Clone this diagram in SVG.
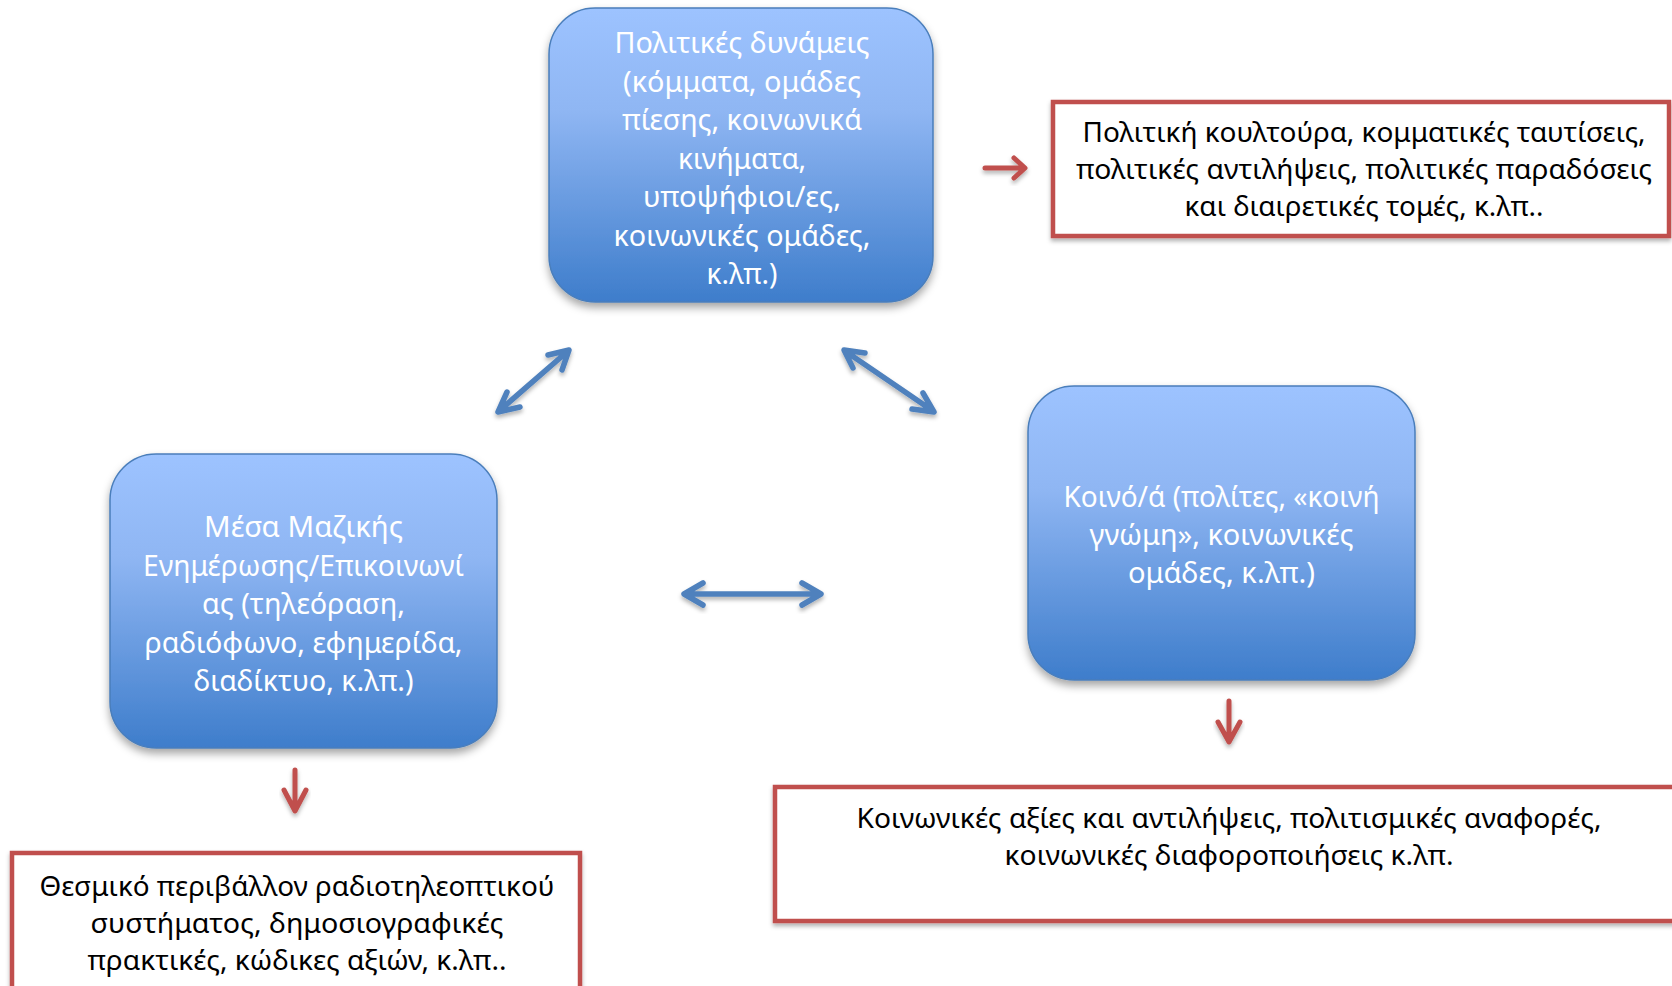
<svg xmlns="http://www.w3.org/2000/svg" width="1672" height="986" viewBox="0 0 1672 986">
<defs>
<linearGradient id="blueGrad" x1="0" y1="0" x2="0" y2="1">
<stop offset="0" stop-color="#9DC3FF"/>
<stop offset="0.35" stop-color="#8FB6F3"/>
<stop offset="1" stop-color="#3E7DCB"/>
</linearGradient>
<filter id="shadow" x="-10%" y="-10%" width="120%" height="130%">
<feDropShadow dx="0" dy="5" stdDeviation="4" flood-color="#000" flood-opacity="0.35"/>
</filter>
<filter id="shadowS" x="-20%" y="-20%" width="140%" height="160%">
<feDropShadow dx="0" dy="3" stdDeviation="2" flood-color="#000" flood-opacity="0.3"/>
</filter>
</defs>
<style>
.node{fill:url(#blueGrad);stroke:#4A7EBB;stroke-width:1.5;filter:url(#shadow)}
.wt{font-family:"Noto Sans","Open Sans","DejaVu Sans",sans-serif;font-size:29px;fill:#FFFFFF;text-anchor:middle}
.box{fill:#FFFFFF;stroke:#C0504D;stroke-width:4.5;filter:url(#shadowS)}
.bt{font-family:"Noto Sans","Open Sans","DejaVu Sans",sans-serif;font-size:27.5px;fill:#000000;text-anchor:middle}
.bl{fill:none;stroke:#4F81BD;stroke-width:5.5;stroke-linecap:round;stroke-linejoin:round;filter:url(#shadowS)}
.rd{fill:none;stroke:#C0504D;stroke-width:5;stroke-linecap:round;stroke-linejoin:round;filter:url(#shadowS)}
</style>
<rect width="1672" height="986" fill="#FFFFFF"/>

<g id="connectors">
<path class="bl" d="M499,411 L568,351 M548,355 L569,350 L562,370 M507,392 L498,412 L520,407"/>
<path class="bl" d="M845,351 L933,411 M865,353 L844,350 L853,368 M923,393 L934,412 L912,409"/>
<path class="bl" d="M685,594 L820,594 M703,583 L684,594 L703,605 M802,583 L821,594 L802,605"/>
<path class="rd" d="M985,168 L1024,168 M1014,158 L1025,168 L1014,178"/>
<path class="rd" d="M295,770 L295,810 M284,790 L295,811 L306,790"/>
<path class="rd" d="M1229,701 L1229,741 M1218,722 L1229,742 L1240,722"/>
</g>

<g id="node-political">
<rect class="node" x="549" y="8" width="384" height="294" rx="46"/>
<text class="wt" x="742" y="53" textLength="255" lengthAdjust="spacingAndGlyphs">Πολιτικές δυνάμεις</text>
<text class="wt" x="742" y="92" textLength="238" lengthAdjust="spacingAndGlyphs">(κόμματα, ομάδες</text>
<text class="wt" x="742" y="130" textLength="240" lengthAdjust="spacingAndGlyphs">πίεσης, κοινωνικά</text>
<text class="wt" x="742" y="169" textLength="128" lengthAdjust="spacingAndGlyphs">κινήματα,</text>
<text class="wt" x="742" y="207" textLength="198" lengthAdjust="spacingAndGlyphs">υποψήφιοι/ες,</text>
<text class="wt" x="742" y="246" textLength="257" lengthAdjust="spacingAndGlyphs">κοινωνικές ομάδες,</text>
<text class="wt" x="742" y="284" textLength="71" lengthAdjust="spacingAndGlyphs">κ.λπ.)</text>
</g>

<g id="node-media">
<rect class="node" x="110" y="454" width="387" height="294" rx="46"/>
<text class="wt" x="303.5" y="537" textLength="199" lengthAdjust="spacingAndGlyphs">Μέσα Μαζικής</text>
<text class="wt" x="303.5" y="576" textLength="321" lengthAdjust="spacingAndGlyphs">Ενημέρωσης/Επικοινωνί</text>
<text class="wt" x="303.5" y="614" textLength="203" lengthAdjust="spacingAndGlyphs">ας (τηλεόραση,</text>
<text class="wt" x="303.5" y="653" textLength="318" lengthAdjust="spacingAndGlyphs">ραδιόφωνο, εφημερίδα,</text>
<text class="wt" x="303.5" y="691" textLength="220" lengthAdjust="spacingAndGlyphs">διαδίκτυο, κ.λπ.)</text>
</g>

<g id="node-public">
<rect class="node" x="1028" y="386" width="387" height="294" rx="46"/>
<text class="wt" x="1221.5" y="507" textLength="316" lengthAdjust="spacingAndGlyphs">Κοινό/ά (πολίτες, «κοινή</text>
<text class="wt" x="1221.5" y="545" textLength="264" lengthAdjust="spacingAndGlyphs">γνώμη», κοινωνικές</text>
<text class="wt" x="1221.5" y="583" textLength="187" lengthAdjust="spacingAndGlyphs">ομάδες, κ.λπ.)</text>
</g>

<g id="box-culture">
<rect class="box" x="1053" y="102" width="616" height="134"/>
<text class="bt" x="1364" y="142" textLength="563" lengthAdjust="spacingAndGlyphs">Πολιτική κουλτούρα, κομματικές ταυτίσεις,</text>
<text class="bt" x="1364" y="179" textLength="576" lengthAdjust="spacingAndGlyphs">πολιτικές αντιλήψεις, πολιτικές παραδόσεις</text>
<text class="bt" x="1364" y="216" textLength="359" lengthAdjust="spacingAndGlyphs">και διαιρετικές τομές, κ.λπ..</text>
</g>

<g id="box-institutional">
<rect class="box" x="12" y="853" width="568" height="160"/>
<text class="bt" x="297" y="896" textLength="515" lengthAdjust="spacingAndGlyphs">Θεσμικό περιβάλλον ραδιοτηλεοπτικού</text>
<text class="bt" x="297" y="933" textLength="413" lengthAdjust="spacingAndGlyphs">συστήματος, δημοσιογραφικές</text>
<text class="bt" x="297" y="970" textLength="419" lengthAdjust="spacingAndGlyphs">πρακτικές, κώδικες αξιών, κ.λπ..</text>
</g>

<g id="box-social">
<rect class="box" x="775" y="787" width="910" height="134"/>
<text class="bt" x="1229" y="828" textLength="745" lengthAdjust="spacingAndGlyphs">Κοινωνικές αξίες και αντιλήψεις, πολιτισμικές αναφορές,</text>
<text class="bt" x="1229" y="865" textLength="449" lengthAdjust="spacingAndGlyphs">κοινωνικές διαφοροποιήσεις κ.λπ.</text>
</g>
</svg>
